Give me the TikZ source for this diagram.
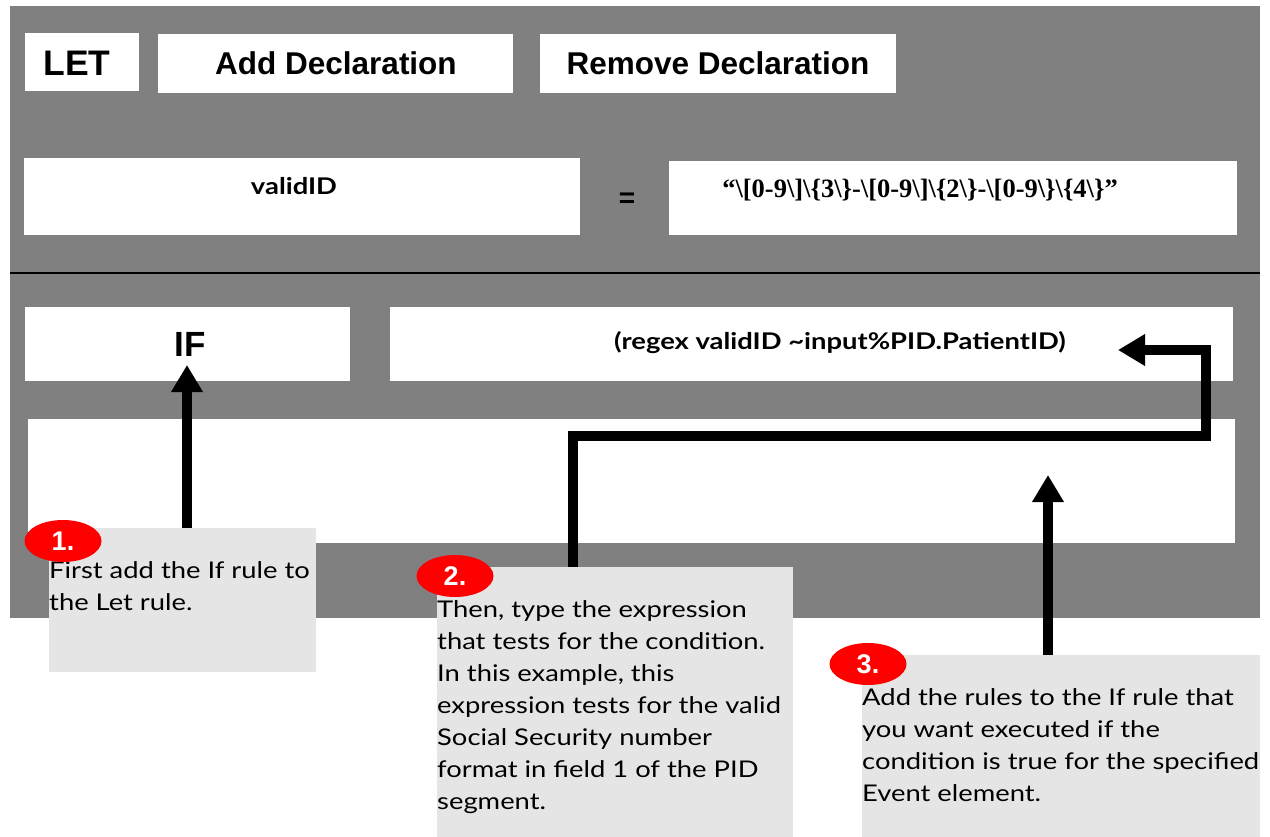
\documentclass[tikz,border=0pt]{standalone}
\usepackage{fontspec}
\setmainfont{Lato}[FakeStretch=1.19]
\newfontfamily\arialf{Liberation Sans}
\newfontfamily\timesf{Liberation Serif}
\usetikzlibrary{arrows.meta,shapes.geometric}
\definecolor{panel}{HTML}{808080}
\definecolor{note}{HTML}{E5E5E5}
\definecolor{badge}{HTML}{FF0000}
\begin{document}
\begin{tikzpicture}[x=1pt,y=-1pt,
  wbox/.style={fill=white,draw=none,inner sep=0pt},
  notebox/.style={fill=note,draw=none,inner sep=0pt},
  hdr/.style={font={\arialf\bfseries\fontsize{31.5}{36}\selectfont},anchor=base,inner sep=0pt},
  boldtxt/.style={font={\bfseries\fontsize{23}{28}\selectfont},anchor=base,inner sep=0pt},
  notetxt/.style={font={\fontsize{23}{32}\selectfont},align=left,anchor=north west,inner sep=0pt},
  badgeel/.style={ellipse,fill=badge,draw=none,minimum width=77pt,minimum height=42pt,inner sep=0pt,
    text=white,font={\arialf\bfseries\fontsize{27}{30}\selectfont}},
  arr/.style={line width=10pt,line join=miter,-{Triangle[length=27pt,width=30pt]}}
]
\useasboundingbox (0,0) rectangle (1270,837);
\fill[panel] (10,6) rectangle (1260,618);
\draw[line width=2.5pt] (10,273) -- (1260,273);

% top row
\node[wbox,minimum width=114pt,minimum height=58pt] (letbox) at (82,62) {};
\node[wbox,minimum width=355pt,minimum height=59pt] (addbox) at (335.5,63.5) {};
\node[wbox,minimum width=356pt,minimum height=59pt] (rembox) at (718,63.5) {};
\node[hdr,font={\arialf\bfseries\fontsize{35.5}{40}\selectfont}] (lett) at (77,76) {LET};
\node[hdr] (addt) at (336,75) {Add Declaration};
\node[hdr] (remt) at (718,75) {Remove Declaration};

% declaration row
\node[wbox,minimum width=556pt,minimum height=77pt] (vidbox) at (302,196.5) {};
\node[wbox,minimum width=568pt,minimum height=74pt] (rgxbox) at (953,198) {};
\node[boldtxt] (vidt) at (294,195) {validID};
\node[hdr,font={\arialf\bfseries\fontsize{28}{32}\selectfont}] (eqt) at (627,208) {=};
\node[anchor=base,inner sep=0pt,font={\timesf\bfseries\fontsize{26.5}{30}\selectfont}] (rgxt) at (920,198)
  {“\textbackslash[0-9\textbackslash]\textbackslash\{3\textbackslash\}-\textbackslash[0-9\textbackslash]\textbackslash\{2\textbackslash\}-\textbackslash[0-9\textbackslash\}\textbackslash\{4\textbackslash\}”};

% if row
\node[wbox,minimum width=325pt,minimum height=74pt] (ifbox) at (187.5,344) {};
\node[wbox,minimum width=843pt,minimum height=74pt] (condbox) at (811.5,344) {};
\node[wbox,minimum width=1207pt,minimum height=124pt] (bodybox) at (631.5,481) {};
\node[hdr,font={\arialf\bfseries\fontsize{35}{40}\selectfont}] (ift) at (190,356) {IF};
\node[boldtxt] (condt) at (840,349) {(regex validID \textasciitilde input\%PID.PatientID)};

% notes
\node[notebox,minimum width=267pt,minimum height=144pt] (note1) at (182.5,600) {};
\node[notebox,minimum width=356pt,minimum height=270pt] (note2) at (615,702) {};
\node[notebox,minimum width=398pt,minimum height=182pt] (note3) at (1061,746) {};

\node[notetxt] (n1t) at (49,558) {\rule{0pt}{20pt}First add the If rule to\\the Let rule.};
\node[notetxt] (n2t) at (437,597) {\rule{0pt}{20pt}Then, type the expression\\that tests for the condition.\\In this example, this\\expression tests for the valid\\Social Security number\\format in field 1 of the PID\\segment.};
\node[notetxt] (n3t) at (862,685) {\rule{0pt}{20pt}Add the rules to the If rule that\\you want executed if the\\condition is true for the specified\\Event element.};

\node[badgeel] (b1) at (63,541) {1.};
\node[badgeel] (b2) at (455,576) {2.};
\node[badgeel] (b3) at (868,664) {3.};

% connectors
\coordinate (t1) at (187,365);
\draw[arr] (t1 |- note1.north) -- (t1);
\coordinate (c2a) at (573,436);
\coordinate (c2b) at (1206,436);
\coordinate (c2c) at (1206,350);
\coordinate (t2) at (1118,350);
\draw[arr] (c2a |- note2.north) -- (c2a) -- (c2b) -- (c2c) -- (t2);
\coordinate (t3) at (1048,475);
\draw[arr] (t3 |- note3.north) -- (t3);
\end{tikzpicture}
\end{document}
